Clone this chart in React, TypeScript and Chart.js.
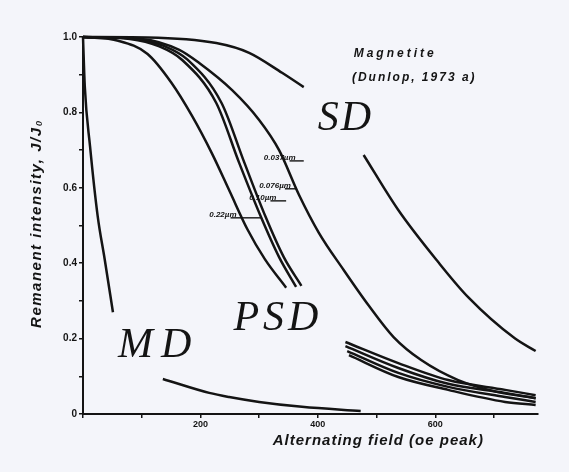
import React, { useEffect, useRef } from "react";
import { Chart, registerables } from "chart.js";

Chart.register(...registerables);

type P = [number, number | null];

// ---- data (field in Oe, remanence J/J0) ----
const xLabelTicks = [200, 400, 600];
const yLabelTicks = [0, 0.2, 0.4, 0.6, 0.8, 1.0];

const mdSteep: P[] = [[0, 1.0], [3, 0.87], [12, 0.71], [25, 0.525], [37, 0.41], [51, 0.27]];
const mdTail: P[] = [[136, 0.093], [215, 0.056], [249, 0.045], [300, 0.032], [373, 0.019], [473, 0.008]];
const sdCurve: P[] = [
  [0, 1.0], [110, 0.999], [227, 0.984], [283, 0.958], [339, 0.905], [376, 0.867],
  [420, null],
  [478, 0.687], [537, 0.541], [605, 0.403], [656, 0.31], [736, 0.2], [771, 0.167],
];
const longCurve: P[] = [
  [0, 1.0], [100, 0.995], [164, 0.966], [198, 0.931], [254, 0.859], [300, 0.78], [334, 0.7],
  [368, 0.581], [402, 0.48], [444, 0.382], [486, 0.289], [529, 0.204], [576, 0.143], [639, 0.09],
  [707, 0.058], [771, 0.042],
];
const psd1: P[] = [
  [0, 1.0], [60, 0.99], [110, 0.955], [150, 0.88], [186, 0.79], [220, 0.69], [250, 0.59],
  [280, 0.49], [310, 0.41], [346, 0.335],
  [400, null],
  [447, 0.191], [537, 0.135], [622, 0.09], [719, 0.064], [771, 0.05],
];
const psd2: P[] = [
  [0, 1.0], [80, 0.995], [130, 0.975], [169, 0.939], [227, 0.825], [266, 0.666], [303, 0.523],
  [334, 0.416], [363, 0.337],
  [410, null],
  [447, 0.18], [537, 0.122], [622, 0.08], [719, 0.056], [771, 0.042],
];
const psd3: P[] = [
  [0, 1.0], [90, 0.995], [140, 0.975], [178, 0.94], [236, 0.825], [275, 0.666], [311, 0.523],
  [342, 0.416], [372, 0.34],
  [415, null],
  [450, 0.167], [537, 0.109], [622, 0.072], [719, 0.045], [771, 0.032],
];
const psd4: P[] = [[453, 0.156], [537, 0.098], [622, 0.064], [719, 0.032], [771, 0.024]];

const allSeries: P[][] = [mdSteep, mdTail, sdCurve, longCurve, psd1, psd2, psd3, psd4];

// ---- annotation text ----
const noteTexts = ["Magnetite", "(Dunlop, 1973 a)"];
const notePos: [number, number][] = [[461, 0.947], [458, 0.883]];
const noteSpacing = [3, 2];
const domainTexts = ["SD", "PSD", "MD"];
const domainPos: [number, number][] = [[447, 0.782], [332, 0.252], [129, 0.18]];
const domainSpacing = [2, 4, 8];
const sizeTexts = ["0.037µm", "0.076µm", "0.10µm", "0.22µm"];
// [text start x, baseline y, leader end x]
const sizePos: [number, number, number][] = [[308, 0.674, 376], [300, 0.6, 364], [283, 0.568, 346], [215, 0.523, 303]];
const xTitle = "Alternating field (oe peak)";
const yTitle = "Remanent intensity, J/J\u2080";

const INK = "#141414";
const SANS = "'Liberation Sans', Arial, sans-serif";
const SERIF = "'Liberation Serif', 'DejaVu Serif', serif";

const annotPlugin = {
  id: "annot",
  afterDraw(chart: any) {
    const { ctx, scales, chartArea } = chart;
    const xs = scales.x;
    const ys = scales.y;
    ctx.save();
    ctx.fillStyle = INK;
    ctx.strokeStyle = INK;
    ctx.textBaseline = "alphabetic";

    // notes
    ctx.font = `italic bold 12px ${SANS}`;
    ctx.textAlign = "left";
    noteTexts.forEach((t, i) => {
      (ctx as any).letterSpacing = `${noteSpacing[i]}px`;
      ctx.fillText(t, xs.getPixelForValue(notePos[i][0]), ys.getPixelForValue(notePos[i][1]));
    });

    // domain labels
    ctx.textAlign = "center";
    ctx.textBaseline = "middle";
    ctx.font = `italic 42px ${SERIF}`;
    domainTexts.forEach((t, i) => {
      (ctx as any).letterSpacing = `${domainSpacing[i]}px`;
      ctx.fillText(t, xs.getPixelForValue(domainPos[i][0]), ys.getPixelForValue(domainPos[i][1]));
    });

    // size labels with leaders
    ctx.textAlign = "left";
    ctx.textBaseline = "alphabetic";
    ctx.font = `italic bold 8px ${SANS}`;
    (ctx as any).letterSpacing = "0px";
    ctx.lineWidth = 1.4;
    sizeTexts.forEach((t, i) => {
      const x0 = xs.getPixelForValue(sizePos[i][0]);
      const yb = ys.getPixelForValue(sizePos[i][1]);
      const x1 = xs.getPixelForValue(sizePos[i][2]);
      const w = ctx.measureText(t).width;
      ctx.fillText(t, x0, yb);
      ctx.beginPath();
      ctx.moveTo(x0 + w - 6, yb + 1);
      ctx.lineTo(x1, yb + 1);
      ctx.stroke();
    });

    // x axis title
    ctx.font = `italic bold 15px ${SANS}`;
    (ctx as any).letterSpacing = "1px";
    ctx.textAlign = "center";
    ctx.fillText(xTitle, xs.getPixelForValue(503), chartArea.bottom + 31);

    // y axis title
    ctx.save();
    ctx.translate(37, (chartArea.top + chartArea.bottom) / 2 - 2);
    ctx.rotate(-Math.PI / 2);
    ctx.font = `italic bold 15px ${SANS}`;
    (ctx as any).letterSpacing = "1.5px";
    ctx.textAlign = "center";
    ctx.textBaseline = "middle";
    ctx.fillText(yTitle, 0, 0);
    ctx.restore();

    ctx.restore();
  },
};

export default function App() {
  const ref = useRef<HTMLCanvasElement | null>(null);

  useEffect(() => {
    if (!ref.current) return;
    const datasets = allSeries.map((s) => ({
      data: s.map(([x, y]) => ({ x, y })),
      borderColor: INK,
      borderWidth: 2.5,
      pointRadius: 0,
      tension: 0.4,
      cubicInterpolationMode: "monotone" as const,
      spanGaps: false,
      fill: false,
      clip: 12,
    }));
    const chart = new Chart(ref.current, {
      type: "line",
      data: { datasets },
      options: {
        animation: false,
        responsive: false,
        layout: { padding: { left: 0, right: 31, top: 37, bottom: 0 } },
        plugins: { legend: { display: false }, tooltip: { enabled: false } },
        scales: {
          x: {
            type: "linear",
            min: 0,
            max: 775,
            grid: { drawOnChartArea: false, drawTicks: true, tickLength: 4, color: INK, lineWidth: 1.5 },
            border: { display: true, color: INK, width: 2 },
            ticks: {
              stepSize: 100,
              includeBounds: false,
              autoSkip: false,
              maxRotation: 0,
              padding: 1,
              color: INK,
              font: { family: SANS, size: 9, weight: "bold" },
              callback: (v: any) => (xLabelTicks.includes(Number(v)) ? String(v) : ""),
            },
            afterFit: (s: any) => {
              s.height = 58;
            },
          },
          y: {
            type: "linear",
            min: 0,
            max: 1,
            grid: { drawOnChartArea: false, drawTicks: true, tickLength: 4, color: INK, lineWidth: 1.5 },
            border: { display: true, color: INK, width: 2 },
            ticks: {
              stepSize: 0.1,
              autoSkip: false,
              padding: 2,
              color: INK,
              font: { family: SANS, size: 10, weight: "bold" },
              callback: (v: any) => {
                const n = Math.round(Number(v) * 10) / 10;
                if (!yLabelTicks.some((t) => Math.abs(t - n) < 1e-6)) return "";
                return n === 0 ? "0" : n.toFixed(1);
              },
            },
            title: { display: false, text: yTitle },
            afterFit: (s: any) => {
              s.width = 83;
            },
          },
        },
      },
      plugins: [annotPlugin],
    });
    return () => chart.destroy();
  }, []);

  return (
    <div
      style={{
        position: "fixed",
        left: 0,
        top: 0,
        width: 569,
        height: 472,
        background: "#f4f5fa",
      }}
    >
      <canvas ref={ref} width={569} height={472} style={{ display: "block" }} />
    </div>
  );
}
